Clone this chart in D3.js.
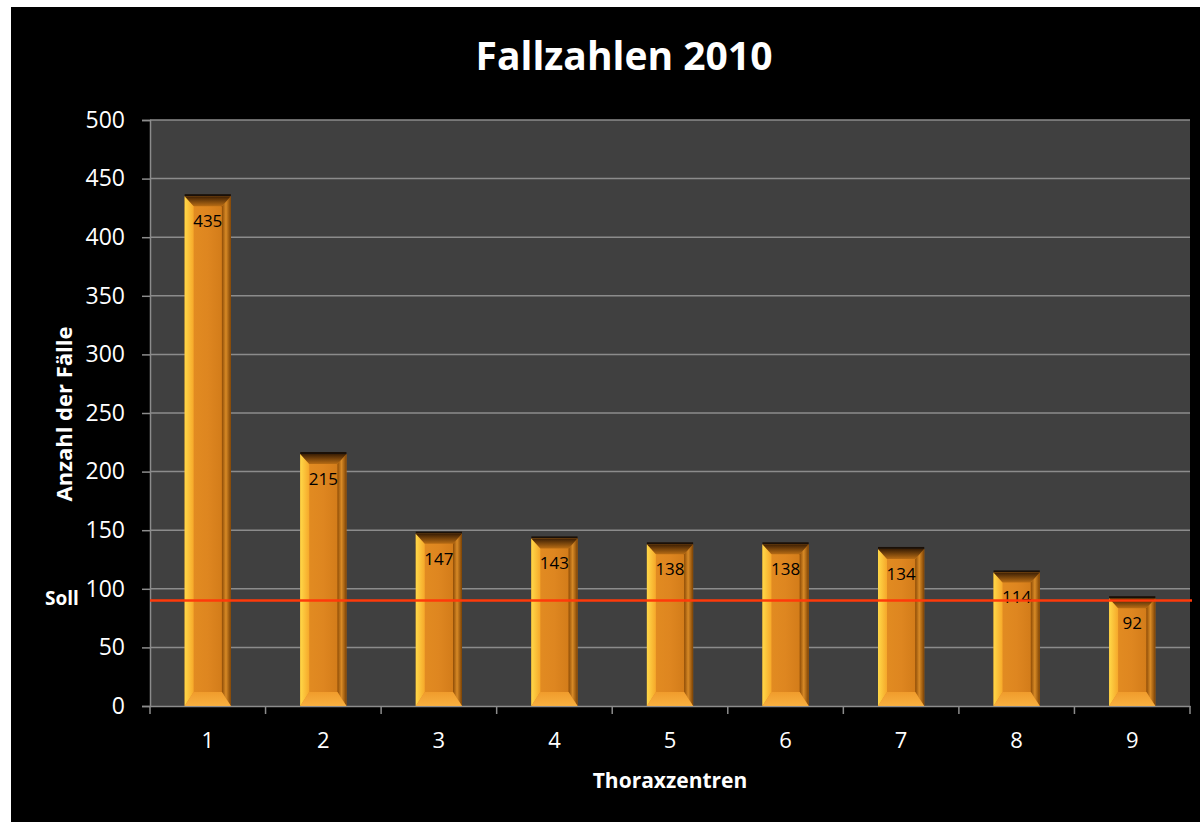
<!DOCTYPE html>
<html>
<head>
<meta charset="utf-8">
<script src="https://cdn.jsdelivr.net/npm/d3@7"></script>
<style>
  html, body { margin: 0; padding: 0; background: #fff; }
  svg { display: block; }
  text { font-family: "Open Sans", "Liberation Sans", sans-serif; }
</style>
</head>
<body>
<div id="chart"></div>
<script>
// Daten
const categories = ["1", "2", "3", "4", "5", "6", "7", "8", "9"];
const values = [435, 215, 147, 143, 138, 138, 134, 114, 92];
const yTicks = [0, 50, 100, 150, 200, 250, 300, 350, 400, 450, 500];
const sollValue = 90;
const title = "Fallzahlen 2010";
const xTitle = "Thoraxzentren";
const yTitle = "Anzahl der Fälle";
const sollLabel = "Soll";

function createChart() {
    const W = 1200, H = 822;
    const plot = { left: 150, right: 1190, top: 120, bottom: 706 };

    const svg = d3.select("#chart").append("svg")
        .attr("width", W)
        .attr("height", H);

    // Hintergrund (weisser Rand oben/links, sonst schwarz)
    svg.append("rect").attr("x", 0).attr("y", 0).attr("width", W).attr("height", H).attr("fill", "#fff");
    svg.append("rect").attr("x", 11).attr("y", 7).attr("width", W - 11).attr("height", H - 7).attr("fill", "#000");

    const defs = svg.append("defs");
    function linGrad(id, x1, y1, x2, y2, stops) {
        const g = defs.append("linearGradient").attr("id", id)
            .attr("x1", x1).attr("y1", y1).attr("x2", x2).attr("y2", y2);
        stops.forEach(s => g.append("stop").attr("offset", s[0]).attr("stop-color", s[1]));
    }
    linGrad("gFront", "0", "0", "1", "0", [[0, "#e48e22"], [0.5, "#de8620"], [1, "#cc7616"]]);
    linGrad("gLeft", "0", "0", "1", "0", [[0, "#ffd848"], [1, "#f6a82a"]]);
    linGrad("gRight", "0", "0", "1", "0", [[0, "#8e4c06"], [0.45, "#d88a26"], [1, "#7c4204"]]);
    linGrad("gTop", "0", "0", "0", "1", [[0, "#3a1e04"], [1, "#b86c14"]]);
    linGrad("gBottom", "0", "0", "0", "1", [[0, "#f09c2c"], [1, "#f8b040"]]);

    const x = d3.scaleBand()
        .domain(categories)
        .range([plot.left, plot.right]);

    const y = d3.scaleLinear()
        .domain([0, 500])
        .range([plot.bottom, plot.top]);

    // Zeichenflaeche
    svg.append("rect")
        .attr("x", plot.left).attr("y", plot.top)
        .attr("width", plot.right - plot.left).attr("height", plot.bottom - plot.top)
        .attr("fill", "#404040");

    // Gitterlinien
    svg.append("g")
        .selectAll("line")
        .data(yTicks.filter(d => d > 0))
        .enter()
        .append("line")
        .attr("x1", plot.left).attr("x2", plot.right)
        .attr("y1", d => y(d)).attr("y2", d => y(d))
        .attr("stroke", "#8c8c8c").attr("stroke-width", 1.5);

    // Y-Achse
    const yAxis = svg.append("g")
        .attr("transform", `translate(${plot.left},0)`)
        .call(d3.axisLeft(y).tickValues(yTicks).tickSize(8).tickPadding(17));
    yAxis.select(".domain").attr("stroke", "#8c8c8c").attr("stroke-width", 1.5);
    yAxis.selectAll(".tick line").attr("stroke", "#8c8c8c").attr("stroke-width", 1.5);
    yAxis.selectAll("text").attr("fill", "#fff").style("font-size", "23px")
        .style("font-family", "'Open Sans', sans-serif");

    // X-Achse
    const xAxis = svg.append("g")
        .attr("transform", `translate(0,${plot.bottom})`)
        .call(d3.axisBottom(x).tickSize(0).tickPadding(26));
    xAxis.select(".domain").attr("stroke", "#8c8c8c").attr("stroke-width", 1.5);
    xAxis.selectAll("text").attr("fill", "#fff").style("font-size", "22px")
        .style("font-family", "'Open Sans', sans-serif");
    // Teilstriche zwischen den Kategorien
    const bounds = categories.map(c => x(c)).concat([x(categories[categories.length - 1]) + x.bandwidth()]);
    svg.append("g")
        .selectAll("line")
        .data(bounds)
        .enter()
        .append("line")
        .attr("x1", d => d).attr("x2", d => d)
        .attr("y1", plot.bottom).attr("y2", plot.bottom + 8)
        .attr("stroke", "#8c8c8c").attr("stroke-width", 1.5);

    // Balken mit Abschraegung
    const bw = x.bandwidth() * 0.4;
    const bev = 9, bevTop = 10, bevBot = 14;
    const bars = svg.append("g")
        .selectAll("g")
        .data(categories.map((c, i) => ({ c: c, v: values[i] })))
        .enter()
        .append("g")
        .attr("transform", d => `translate(${x(d.c) + (x.bandwidth() - bw) / 2},${y(d.v)})`);

    bars.each(function(d) {
        const g = d3.select(this);
        const h = y(0) - y(d.v);
        g.append("rect").attr("x", 0).attr("y", -2).attr("width", bw).attr("height", 3).attr("fill", "#1a1008");
        g.append("rect").attr("x", 0).attr("y", 0).attr("width", bw).attr("height", h).attr("fill", "url(#gFront)");
        g.append("polygon")
            .attr("points", [[0, 0], [bev, bevTop], [bev, h - bevBot], [0, h]].join(" "))
            .attr("fill", "url(#gLeft)");
        g.append("polygon")
            .attr("points", [[bw, 0], [bw - bev, bevTop], [bw - bev, h - bevBot], [bw, h]].join(" "))
            .attr("fill", "url(#gRight)");
        g.append("polygon")
            .attr("points", [[0, 0], [bw, 0], [bw - bev, bevTop], [bev, bevTop]].join(" "))
            .attr("fill", "url(#gTop)");
        g.append("polygon")
            .attr("points", [[0, h], [bw, h], [bw - bev, h - bevBot], [bev, h - bevBot]].join(" "))
            .attr("fill", "url(#gBottom)");
        g.append("text")
            .attr("x", bw / 2).attr("y", 31)
            .attr("text-anchor", "middle")
            .attr("fill", "#000")
            .style("font-size", "17px")
            .text(d.v);
    });

    // Soll-Linie
    svg.append("line")
        .attr("x1", plot.left).attr("x2", plot.right + 2)
        .attr("y1", y(sollValue)).attr("y2", y(sollValue))
        .attr("stroke", "#ff3a0a").attr("stroke-width", 2.5);

    svg.append("text")
        .attr("x", 45).attr("y", 605)
        .attr("fill", "#fff")
        .style("font-size", "19px").style("font-weight", "bold")
        .text(sollLabel);

    // Titel
    svg.append("text")
        .attr("x", 624).attr("y", 70)
        .attr("text-anchor", "middle")
        .attr("fill", "#fff")
        .style("font-size", "39px").style("font-weight", "bold")
        .text(title);

    svg.append("text")
        .attr("x", 670).attr("y", 788)
        .attr("text-anchor", "middle")
        .attr("fill", "#fff")
        .style("font-size", "21px").style("font-weight", "bold")
        .text(xTitle);

    svg.append("text")
        .attr("transform", `translate(72,${(plot.top + plot.bottom) / 2 + 1}) rotate(-90)`)
        .attr("text-anchor", "middle")
        .attr("fill", "#fff")
        .style("font-size", "22px").style("font-weight", "bold")
        .text(yTitle);
}

createChart();
</script>
</body>
</html>
